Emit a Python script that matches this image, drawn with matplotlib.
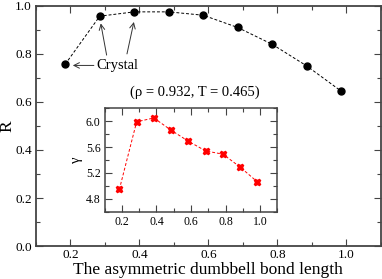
import numpy as np
import matplotlib
matplotlib.use('Agg')
import matplotlib.pyplot as plt
from matplotlib.ticker import MultipleLocator

plt.rcParams['font.family'] = ['Liberation Serif', 'DejaVu Serif']
plt.rcParams['mathtext.fontset'] = 'stix'

# main curve: R vs bond length
bond = [0.185, 0.285, 0.385, 0.485, 0.585, 0.685, 0.785, 0.885, 0.985]
R = [0.757, 0.957, 0.975, 0.975, 0.961, 0.910, 0.840, 0.750, 0.645]

# inset: gamma vs bond length
gamma = [4.945, 5.99, 6.05, 5.86, 5.69, 5.54, 5.49, 5.29, 5.06]

spine_col = '#444444'


def style_axes(ax, lw, major_x, minor_x, major_y, minor_y, size):
    for s in ax.spines.values():
        s.set_linewidth(lw)
        s.set_color(spine_col)
    ax.xaxis.set_major_locator(MultipleLocator(major_x))
    ax.xaxis.set_minor_locator(MultipleLocator(minor_x))
    ax.yaxis.set_major_locator(MultipleLocator(major_y))
    ax.yaxis.set_minor_locator(MultipleLocator(minor_y))
    ax.tick_params(which='both', direction='in', top=True, right=True,
                   color=spine_col, labelsize=size, width=0.8, pad=3)
    ax.tick_params(which='major', length=5)
    ax.tick_params(which='minor', length=3)


fig = plt.figure(figsize=(3.82, 2.79), dpi=100)
ax = fig.add_axes([0.094, 0.118, 0.903, 0.861])
ax.plot(bond, R, 'k--', lw=0.7, dashes=(3, 2), marker='o', ms=5)
ax.set_xlim(0.1, 1.1)
ax.set_ylim(0.0, 1.0)
style_axes(ax, 1.3, 0.2, 0.1, 0.2, 0.1, 9.5)
ax.tick_params(axis='x', pad=2)
ax.set_xlabel('The asymmetric dumbbell bond length', fontsize=12.5,
              va='baseline')
ax.set_ylabel('R', fontsize=12.5)
ax.xaxis.set_label_coords(0.5, -0.116)
ax.yaxis.set_label_coords(-0.058, 0.5)

ax.text(0.275, 0.752, 'Crystal', fontsize=10.5, va='center', ha='left')
arr = dict(arrowstyle='->', lw=0.7, color='#333333', shrinkA=0, shrinkB=0)
ax.annotate('', xy=(0.207, 0.752), xytext=(0.268, 0.752), arrowprops=arr)
ax.annotate('', xy=(0.288, 0.927), xytext=(0.305, 0.795), arrowprops=arr)
ax.annotate('', xy=(0.384, 0.933), xytext=(0.364, 0.800), arrowprops=arr)
ax.text(0.56, 0.64, '(ρ = 0.932, T = 0.465)', fontsize=10.5,
        ha='center', va='center')

ins = fig.add_axes([0.274, 0.241, 0.452, 0.371])
ins.plot(bond, gamma, color='red', ls='--', lw=0.7, dashes=(3, 2),
         marker='X', ms=4.5)
ins.set_xlim(0.1, 1.1)
ins.set_ylim(4.6, 6.2)
style_axes(ins, 1.1, 0.2, 0.1, 0.4, 0.2, 8.5)
ins.set_ylabel('γ', fontsize=10.5, labelpad=2)

fig.savefig('out.png', dpi=100)
